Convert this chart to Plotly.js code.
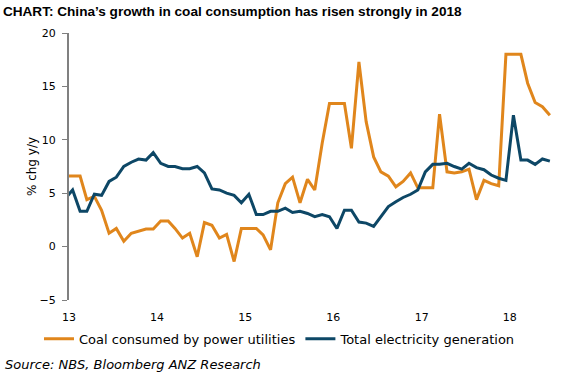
<!DOCTYPE html>
<html>
<head>
<meta charset="utf-8">
<script src="https://cdn.plot.ly/plotly-3.0.1.min.js"></script>
<style>html,body{margin:0;padding:0;background:#fff;}#chart{width:577px;height:375px;}</style>
</head>
<body>
<div id="chart"></div>
<script>
// Monthly series, Dec 2012 .. Jun 2018 (% chg y/y)
var startYear = 2012, startMonth = 12;
var coalPower = [6.6,
  6.6, 6.6, 4.4, 4.7, 3.4, 1.25, 1.7, 0.5, 1.25, 1.45, 1.65, 1.65,
  2.4, 2.4, 1.7, 0.8, 1.25, -0.95, 2.25, 2.0, 0.8, 1.15, -1.4, 1.7,
  1.7, 1.7, 1.1, -0.3, 4.1, 5.9, 6.5, 4.1, 6.3, 5.3, 9.7, 13.4,
  13.4, 13.4, 9.2, 17.3, 11.7, 8.4, 7.0, 6.6, 5.6, 6.1, 6.9, 5.5,
  5.5, 5.5, 12.4, 7.0, 6.9, 7.0, 7.25, 4.4, 6.2, 5.9, 5.7, 18.0,
  18.0, 18.0, 15.3, 13.5, 13.1, 12.3];
var electricity = [4.5,
  5.3, 3.3, 3.3, 4.9, 4.8, 6.1, 6.5, 7.5, 7.9, 8.2, 8.1, 8.8,
  7.8, 7.5, 7.5, 7.3, 7.3, 7.5, 6.9, 5.4, 5.3, 5.0, 4.8, 4.1,
  4.9, 3.0, 3.0, 3.3, 3.3, 3.6, 3.2, 3.3, 3.1, 2.8, 3.0, 2.8,
  1.7, 3.4, 3.4, 2.3, 2.2, 1.9, 2.8, 3.75, 4.2, 4.6, 4.9, 5.3,
  7.0, 7.7, 7.7, 7.8, 7.5, 7.25, 7.8, 7.4, 7.2, 6.7, 6.4, 6.2,
  12.3, 8.1, 8.1, 7.7, 8.2, 8.0];
var yearTickVals = ['2013-01-01', '2014-01-01', '2015-01-01', '2016-01-01', '2017-01-01', '2018-01-01'];
var yearTickText = ['13', '14', '15', '16', '17', '18'];
var seriesNames = ['Coal consumed by power utilities', 'Total electricity generation'];

var months = [];
for (var i = 0; i < coalPower.length; i++) {
  var m = startMonth - 1 + i;
  var yy = startYear + Math.floor(m / 12);
  var mm = (m % 12) + 1;
  months.push(yy + '-' + (mm < 10 ? '0' : '') + mm + '-16');
}

var FONT = 'DejaVu Sans, Verdana, sans-serif';
var xRange = ['2013-01-01', '2018-06-29'];

var traces = [
  {x: months, y: coalPower, name: seriesNames[0], type: 'scatter', mode: 'lines',
   line: {color: '#E0861C', width: 3}, hoverinfo: 'skip'},
  {x: months, y: electricity, name: seriesNames[1], type: 'scatter', mode: 'lines',
   line: {color: '#0D4766', width: 3}, hoverinfo: 'skip'}
];

var layout = {
  width: 577, height: 375,
  margin: {l: 69, r: 24, t: 33, b: 75},
  paper_bgcolor: '#fff', plot_bgcolor: '#fff',
  font: {family: FONT, size: 11, color: '#000'},
  title: {text: '<b>CHART: China\u2019s growth in coal consumption has risen strongly in 2018</b>',
    font: {family: 'Liberation Sans, Arial, sans-serif', size: 13.6, color: '#000'},
    x: 0.005, xanchor: 'left', xref: 'container', y: 0.97, yanchor: 'middle', yref: 'container'},
  showlegend: true,
  legend: {orientation: 'h', x: -0.062, xanchor: 'left', y: -0.145, yanchor: 'middle',
    font: {family: FONT, size: 13, color: '#000'}, traceorder: 'normal',
    bgcolor: 'rgba(0,0,0,0)', itemwidth: 30},
  xaxis: {type: 'date', range: xRange, anchor: 'y', showgrid: false, zeroline: false,
    showline: false, ticks: '', tickvals: yearTickVals, ticktext: yearTickText,
    tickfont: {family: FONT, size: 11, color: '#000'}, ticklabelstandoff: 9, fixedrange: true},
  xaxis2: {type: 'date', range: xRange, overlaying: 'x', anchor: 'free', position: 0.2,
    showgrid: false, zeroline: false, showline: true, linecolor: '#000', linewidth: 1,
    ticks: 'outside', ticklen: 5, tickwidth: 1, tickcolor: '#555', tickvals: yearTickVals,
    showticklabels: false, fixedrange: true},
  yaxis: {range: [-5, 20], tickvals: [-5, 0, 5, 10, 15, 20], showgrid: false, zeroline: false,
    showline: true, linecolor: '#808080', linewidth: 2, ticks: 'outside', ticklen: 5,
    tickcolor: '#808080', tickwidth: 1, ticklabelstandoff: 4,
    tickfont: {family: FONT, size: 11, color: '#000'},
    title: {text: '% chg y/y', font: {family: FONT, size: 12, color: '#000'}, standoff: 0},
    fixedrange: true},
  annotations: [
    {text: '<i>Source: NBS, Bloomberg ANZ Research</i>', xref: 'paper', yref: 'paper',
     x: -0.136, xanchor: 'left', y: -0.243, yanchor: 'middle', showarrow: false,
     font: {family: FONT, size: 13, color: '#000'}}
  ]
};

Plotly.newPlot('chart', traces, layout, {displayModeBar: false, staticPlot: true});
</script>
</body>
</html>
